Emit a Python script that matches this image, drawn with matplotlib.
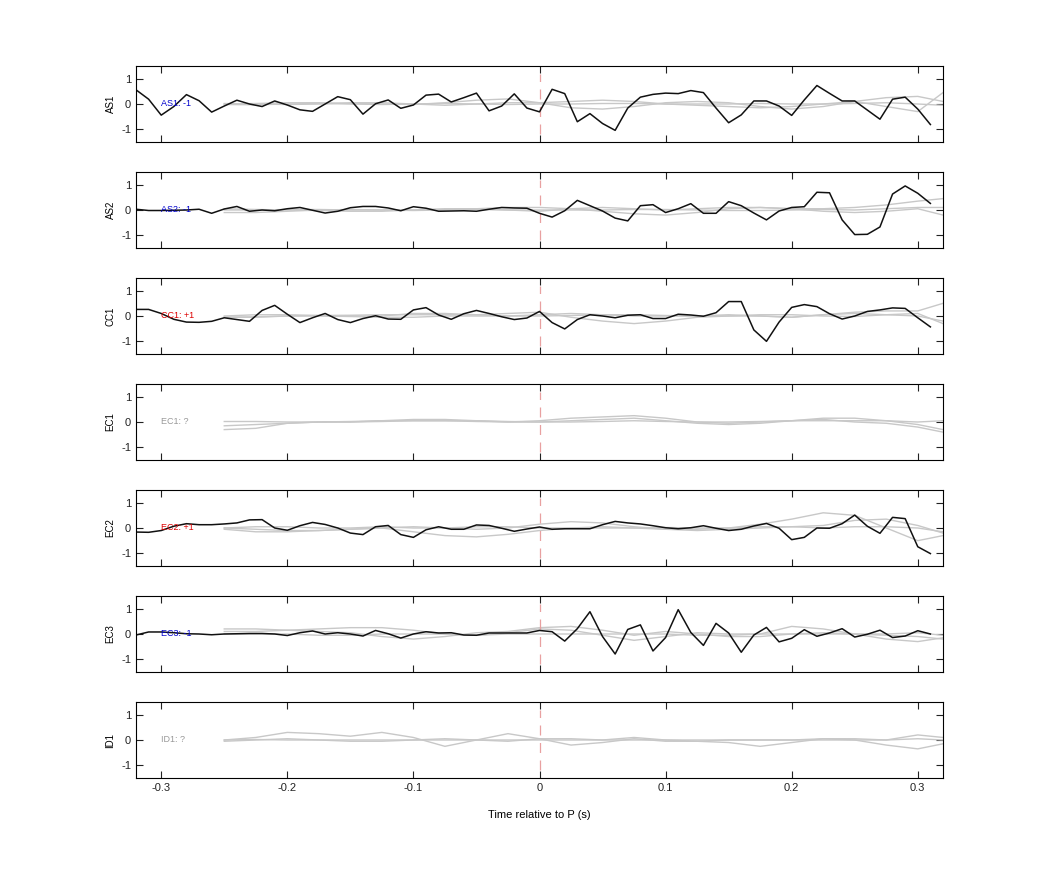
import matplotlib
matplotlib.use("Agg")
import matplotlib.pyplot as plt

stations = ["AS1", "AS2", "CC1", "EC1", "EC2", "EC3", "ID1"]
polarity = ["-1", "-1", "+1", "?", "+1", "-1", "?"]
pol_colors = {"-1": "#0000cc", "+1": "#dd0000", "?": "#999999"}

t_black = [round(-0.32 + 0.01 * i, 2) for i in range(64)]

as1 = [0.56, 0.19, -0.44, -0.1, 0.37, 0.13, -0.32, -0.08, 0.15, 0.0, -0.1, 0.12, -0.04, -0.23, -0.29, 0.0,
       0.29, 0.17, -0.4, 0.01, 0.16, -0.17, -0.04, 0.35, 0.39, 0.08, 0.25, 0.43, -0.27, -0.08, 0.4, -0.16,
       -0.31, 0.58, 0.41, -0.7, -0.38, -0.77, -1.04, -0.16, 0.27, 0.38, 0.43, 0.41, 0.53, 0.45, -0.16, -0.74,
       -0.43, 0.12, 0.12, -0.08, -0.45, 0.16, 0.73, 0.42, 0.12, 0.12, -0.24, -0.6, 0.19, 0.27, -0.2, -0.81]
as2 = [0.03, -0.02, -0.02, -0.01, 0.0, 0.03, -0.13, 0.04, 0.14, -0.05, 0.0, -0.03, 0.05, 0.1, -0.01, -0.12,
       -0.05, 0.09, 0.14, 0.14, 0.08, -0.03, 0.13, 0.07, -0.05, -0.04, -0.03, -0.05, 0.03, 0.1, 0.08, 0.07,
       -0.13, -0.28, -0.03, 0.38, 0.17, -0.04, -0.32, -0.43, 0.17, 0.21, -0.1, 0.05, 0.25, -0.13, -0.13, 0.33,
       0.17, -0.12, -0.39, -0.04, 0.1, 0.13, 0.7, 0.68, -0.39, -0.97, -0.96, -0.67, 0.63, 0.95, 0.66, 0.26]
cc1 = [0.26, 0.26, 0.1, -0.13, -0.24, -0.25, -0.21, -0.07, -0.14, -0.21, 0.22, 0.42, 0.07, -0.26, -0.07, 0.1,
       -0.14, -0.26, -0.1, 0.01, -0.12, -0.13, 0.24, 0.33, 0.04, -0.13, 0.09, 0.22, 0.1, -0.03, -0.14, -0.08,
       0.18, -0.26, -0.51, -0.14, 0.05, 0.0, -0.07, 0.03, 0.05, -0.1, -0.1, 0.07, 0.04, -0.01, 0.13, 0.57,
       0.57, -0.55, -1.0, -0.24, 0.34, 0.45, 0.37, 0.09, -0.12, 0.0, 0.18, 0.24, 0.32, 0.3, -0.07, -0.43]
ec2 = [-0.16, -0.17, -0.1, 0.07, 0.17, 0.13, 0.13, 0.16, 0.2, 0.32, 0.33, 0.0, -0.09, 0.09, 0.22, 0.14,
       0.0, -0.2, -0.26, 0.05, 0.1, -0.26, -0.37, -0.07, 0.05, -0.05, -0.05, 0.12, 0.1, -0.01, -0.13, -0.04,
       0.04, -0.05, -0.03, -0.03, -0.03, 0.13, 0.26, 0.2, 0.16, 0.09, 0.01, -0.03, 0.01, 0.09, -0.01, -0.1,
       -0.05, 0.08, 0.18, -0.01, -0.46, -0.37, 0.0, -0.01, 0.17, 0.51, 0.07, -0.21, 0.42, 0.37, -0.74, -1.01]
ec3 = [-0.04, 0.08, 0.08, 0.05, 0.01, 0.0, -0.03, 0.0, 0.01, 0.02, 0.02, 0.0, -0.06, 0.05, 0.12, 0.0,
       0.05, 0.0, -0.08, 0.14, 0.01, -0.16, 0.0, 0.09, 0.04, 0.05, -0.04, -0.05, 0.04, 0.04, 0.04, 0.04,
       0.14, 0.09, -0.28, 0.21, 0.88, -0.1, -0.79, 0.18, 0.36, -0.67, -0.14, 0.96, 0.06, -0.45, 0.42, 0.04,
       -0.72, -0.04, 0.26, -0.31, -0.17, 0.17, -0.09, 0.04, 0.21, -0.12, -0.01, 0.15, -0.14, -0.08, 0.13, 0.0]
black = [as1, as2, cc1, None, ec2, ec3, None]

t_gray = [-0.25, -0.225, -0.2, -0.175, -0.15, -0.125, -0.1, -0.075, -0.05, -0.025, 0.0, 0.025,
          0.05, 0.075, 0.1, 0.125, 0.15, 0.175, 0.2, 0.225, 0.25, 0.275, 0.3, 0.32]

gray = [
    [[0.0, 0.02, 0.05, 0.05, 0.02, 0.0, -0.02, 0.05, 0.15, 0.2, 0.05, -0.15, -0.2, -0.1, 0.05, 0.1, 0.05, -0.1, -0.2, -0.1, 0.1, 0.25, 0.3, 0.1],
     [0.02, 0.0, -0.02, 0.0, 0.05, 0.05, 0.0, -0.05, 0.0, 0.05, 0.05, 0.1, 0.15, 0.1, 0.0, -0.05, -0.1, -0.15, -0.1, 0.0, 0.1, -0.1, -0.3, 0.45],
     [-0.02, -0.03, 0.0, 0.02, 0.0, -0.02, 0.0, 0.02, 0.0, -0.02, 0.0, 0.0, 0.02, 0.02, 0.0, 0.0, 0.0, 0.02, 0.0, 0.0, 0.02, 0.05, 0.0, -0.05]],
    [[-0.1, -0.1, -0.05, 0.0, 0.02, 0.0, -0.02, 0.0, 0.05, 0.1, 0.1, 0.05, -0.05, -0.15, -0.2, -0.1, 0.05, 0.1, 0.05, -0.05, -0.1, -0.05, 0.05, -0.2],
     [0.05, 0.02, 0.0, -0.02, -0.05, -0.05, 0.0, 0.05, 0.05, 0.0, -0.05, 0.05, 0.1, 0.05, 0.0, 0.05, 0.1, 0.1, 0.05, 0.05, 0.1, 0.2, 0.35, 0.45],
     [0.0, 0.0, 0.02, 0.02, 0.0, 0.0, 0.0, 0.02, 0.02, 0.0, 0.0, 0.0, 0.0, 0.02, 0.02, 0.0, -0.02, -0.02, 0.0, 0.02, 0.0, 0.05, 0.1, 0.1]],
    [[-0.05, -0.03, 0.0, 0.02, 0.03, 0.05, 0.05, 0.05, 0.05, 0.1, 0.15, -0.05, -0.2, -0.3, -0.2, -0.05, 0.0, 0.0, -0.05, 0.05, 0.15, 0.2, 0.2, 0.5],
     [0.0, 0.05, 0.05, 0.02, 0.0, 0.0, 0.1, 0.1, 0.05, 0.0, 0.05, 0.1, 0.05, 0.0, 0.0, 0.0, 0.05, 0.0, -0.05, 0.05, 0.1, 0.05, 0.0, -0.2],
     [-0.05, -0.05, 0.0, 0.0, -0.02, -0.05, -0.05, 0.0, 0.0, 0.0, 0.0, 0.02, 0.05, 0.05, 0.02, 0.0, 0.0, 0.05, 0.05, 0.0, -0.02, 0.05, 0.1, -0.3]],
    [[-0.3, -0.25, -0.05, 0.0, 0.02, 0.05, 0.1, 0.1, 0.05, 0.0, 0.05, 0.15, 0.2, 0.25, 0.15, 0.0, -0.05, 0.0, 0.05, 0.1, 0.0, -0.05, -0.2, -0.4],
     [-0.15, -0.1, -0.05, 0.0, 0.0, 0.05, 0.05, 0.05, 0.02, 0.0, 0.0, 0.05, 0.1, 0.15, 0.05, -0.05, -0.1, -0.05, 0.05, 0.15, 0.15, 0.05, -0.1, -0.3],
     [0.02, 0.02, 0.0, 0.0, 0.0, 0.02, 0.05, 0.05, 0.05, 0.02, 0.0, 0.0, 0.02, 0.05, 0.02, 0.0, 0.0, 0.02, 0.05, 0.05, 0.05, 0.05, 0.0, 0.05]],
    [[0.0, -0.05, -0.1, -0.1, -0.05, 0.0, 0.05, 0.0, -0.05, 0.0, 0.15, 0.25, 0.2, 0.05, -0.05, -0.05, 0.0, 0.15, 0.35, 0.6, 0.5, 0.0, -0.5, -0.3],
     [-0.05, -0.15, -0.15, -0.1, -0.05, 0.0, -0.15, -0.3, -0.35, -0.25, -0.1, 0.0, 0.05, 0.0, -0.05, -0.1, -0.05, 0.0, 0.05, 0.1, 0.3, 0.35, 0.1, -0.2],
     [0.0, 0.05, 0.05, 0.0, 0.0, 0.05, 0.0, 0.0, 0.05, 0.05, 0.0, 0.0, 0.0, 0.0, 0.02, 0.0, 0.0, 0.05, 0.05, 0.0, 0.05, 0.05, 0.0, -0.15]],
    [[0.2, 0.2, 0.15, 0.1, 0.05, -0.1, -0.2, -0.1, 0.05, 0.1, 0.25, 0.3, 0.15, -0.05, 0.1, 0.0, -0.1, -0.1, 0.0, 0.05, 0.0, -0.05, -0.1, -0.2],
     [0.1, 0.1, 0.15, 0.2, 0.25, 0.25, 0.15, 0.0, -0.05, 0.05, 0.2, 0.15, -0.05, -0.25, -0.1, 0.05, 0.0, 0.0, 0.3, 0.2, 0.0, -0.2, -0.3, -0.15],
     [0.0, 0.0, 0.0, -0.05, -0.05, 0.0, 0.0, 0.0, -0.05, 0.0, 0.0, 0.0, 0.0, 0.0, 0.0, -0.05, -0.05, 0.0, 0.0, 0.0, 0.0, 0.0, 0.05, -0.05]],
    [[0.0, 0.1, 0.3, 0.25, 0.15, 0.3, 0.1, -0.25, 0.0, 0.25, 0.05, -0.2, -0.1, 0.05, -0.05, -0.05, -0.1, -0.25, -0.1, 0.05, 0.0, -0.2, -0.35, -0.15],
     [-0.05, 0.0, 0.05, 0.0, -0.05, -0.05, 0.0, 0.05, 0.0, -0.05, 0.05, 0.05, 0.0, 0.1, 0.0, -0.05, 0.0, 0.0, 0.0, 0.05, 0.05, 0.0, 0.2, 0.1],
     [0.0, 0.02, 0.0, 0.0, 0.0, 0.0, 0.0, 0.0, 0.0, 0.0, 0.0, 0.0, 0.0, 0.0, 0.0, 0.0, 0.0, 0.0, 0.0, 0.0, 0.0, 0.0, 0.05, 0.0]],
]

plt.rcParams['font.family'] = ['Liberation Sans', 'DejaVu Sans']
plt.rcParams['axes.unicode_minus'] = False

fig = plt.figure(figsize=(10.42, 8.75), dpi=100)
left, width = 136 / 1042, (943 - 136) / 1042
h = 76 / 875
tops = [66, 172, 278, 384, 490, 596, 702]

for i, st in enumerate(stations):
    ax = fig.add_axes([left, 1 - (tops[i] + 76) / 875, width, h])
    for g in gray[i]:
        ax.plot(t_gray, g, color="#c8c8c8", lw=1.0)
    ax.plot([0, 0], [-1.2, 1.2], color="#e8a0a0", lw=0.9, ls=(0, (8, 6)))
    if black[i] is not None:
        ax.plot(t_black, black[i], color="#111111", lw=1.1)
    ax.text(-0.3, 0, f"{st}: {polarity[i]}", color=pol_colors[polarity[i]],
            fontsize=6.5, va="center", ha="left")
    ax.set_xlim(-0.32, 0.32)
    ax.set_ylim(-1.5, 1.5)
    ax.set_yticks([-1, 0, 1])
    ax.set_xticks([-0.3, -0.2, -0.1, 0, 0.1, 0.2, 0.3])
    ax.tick_params(direction="in", top=True, right=True, labelsize=8, length=5, colors="#222222")
    ax.set_ylabel(st, fontsize=7)
    if i < len(stations) - 1:
        ax.set_xticklabels([])
    else:
        ax.set_xticklabels(["-0.3", "-0.2", "-0.1", "0", "0.1", "0.2", "0.3"])
        ax.set_xlabel("Time relative to P (s)", fontsize=8, labelpad=12)

fig.savefig("out.png", dpi=100)
